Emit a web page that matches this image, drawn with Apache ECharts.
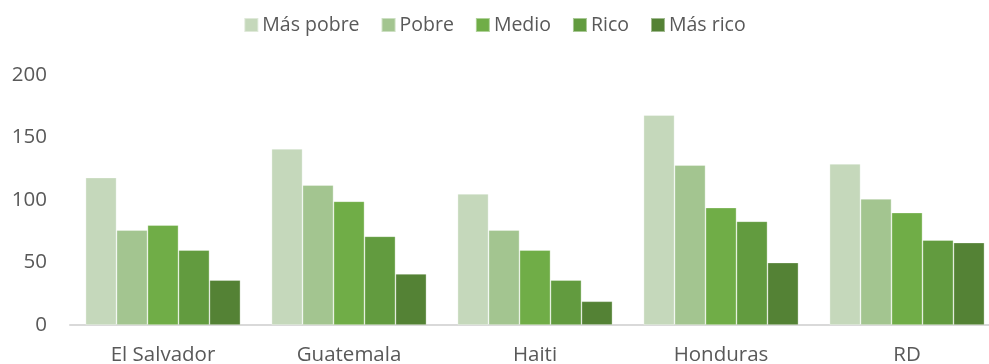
<!DOCTYPE html>
<html>
<head>
<meta charset="utf-8">
<script src="https://cdn.jsdelivr.net/npm/echarts@6/dist/echarts.min.js"></script>
<style>
  html, body { margin: 0; padding: 0; background: #fff; }
  #chart { width: 989px; height: 364px; }
</style>
</head>
<body>
<div id="chart"></div>
<script>
// Countries on the category axis
const countries = ['El Salvador', 'Guatemala', 'Haiti', 'Honduras', 'RD'];

// Wealth quintile groups
const groupNames = ['Más pobre', 'Pobre', 'Medio', 'Rico', 'Más rico'];

// Values per quintile, one entry per country
const masPobre = [118, 141, 105, 168, 129];
const pobre    = [76, 112, 76, 128, 101];
const medio    = [80, 99, 60, 94, 90];
const rico     = [60, 71, 36, 83, 68];
const masRico  = [36, 41, 19, 50, 66];

// Value axis ticks
const yTicks = [0, 50, 100, 150, 200];

const seriesValues = [masPobre, pobre, medio, rico, masRico];
const palette = ['#C5D8BB', '#A3C590', '#70AD47', '#629B3F', '#548235'];
const textColor = '#595959';
const fontFamily = '"Open Sans", "Liberation Sans", sans-serif';

const chart = echarts.init(document.getElementById('chart'), null, { renderer: 'canvas' });

chart.setOption({
  animation: false,
  textStyle: { fontFamily: fontFamily },
  legend: {
    top: 10,
    left: 'center',
    itemWidth: 14,
    itemHeight: 14,
    itemGap: 21,
    icon: 'rect',
    textStyle: { color: textColor, fontSize: 19.5, fontFamily: fontFamily, padding: [0, 0, 0, -1] },
    data: groupNames
  },
  grid: {
    left: 70,
    top: 75,
    width: 930,
    bottom: 39,
    containLabel: false,
    outerBoundsMode: 'none'
  },
  xAxis: {
    type: 'category',
    data: countries,
    axisTick: { show: false },
    axisLine: { lineStyle: { color: '#D9D9D9', width: 2 } },
    axisLabel: { color: textColor, fontSize: 20.5, margin: 20, fontFamily: fontFamily }
  },
  yAxis: {
    type: 'value',
    min: yTicks[0],
    max: yTicks[yTicks.length - 1],
    interval: yTicks[1] - yTicks[0],
    splitLine: { show: false },
    axisLine: { show: false },
    axisTick: { show: false },
    axisLabel: { color: textColor, fontSize: 20.5, margin: 23, fontFamily: fontFamily }
  },
  series: groupNames.map((name, i) => ({
    name: name,
    type: 'bar',
    data: seriesValues[i],
    barGap: '0%',
    barCategoryGap: '16.7%',
    itemStyle: {
      color: palette[i],
      borderColor: 'rgba(255,255,255,0.45)',
      borderWidth: 0.75
    }
  }))
});
</script>
</body>
</html>
